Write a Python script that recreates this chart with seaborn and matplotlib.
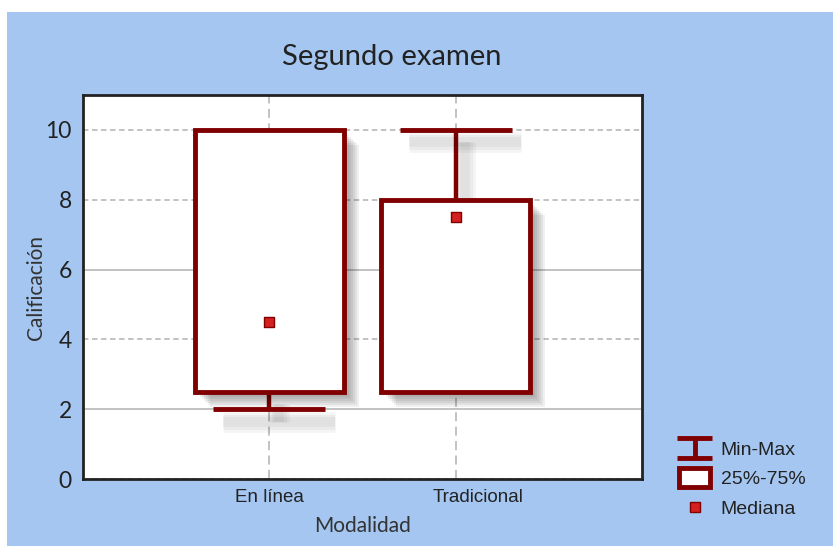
import matplotlib
matplotlib.use("Agg")
import matplotlib.pyplot as plt
import matplotlib.patheffects as pe
from matplotlib.lines import Line2D
from matplotlib.patches import Rectangle
from matplotlib.legend_handler import HandlerBase
import numpy as np
import seaborn as sns

# resumen por modalidad
modalidad = ["En línea", "Tradicional"]
minimo = [2.0, 2.5]
q25 = [2.5, 2.5]
mediana = [4.5, 7.5]
q75 = [10.0, 8.0]
maximo = [10.0, 10.0]
y_ticks = [0, 2, 4, 6, 8, 10]

rojo = "#800000"
rojo_claro = "#d42020"
azul = "#a4c6f0"

sns.set_style("white")
plt.rcParams["font.family"] = ["Lato", "DejaVu Sans"]

fig = plt.figure(figsize=(8.33, 5.46), dpi=100)
fig.patch.set_facecolor("white")
fig.patches.append(Rectangle((7 / 833, 0), 1, 1 - 12 / 546, transform=fig.transFigure,
                             facecolor=azul, edgecolor="none", zorder=-10))

ax = fig.add_axes([83 / 833, 67 / 546, 559 / 833, 384 / 546])
ax.set_facecolor("white")

# sombras difusas
box_shadow = [pe.SimplePatchShadow(offset=(d, -d), shadow_rgbFace="black", alpha=0.06)
              for d in (2, 3.5, 5, 6.5, 8, 9.5, 11)] + [pe.Normal()]
line_shadow = [pe.SimpleLineShadow(offset=(7, -9), shadow_color="black", alpha=0.04, linewidth=w)
               for w in (15, 11, 7)] + [pe.Normal()]

stats = []
for i, m in enumerate(modalidad):
    stats.append(dict(label=m, whislo=minimo[i], q1=q25[i], med=mediana[i],
                      q3=q75[i], whishi=maximo[i], fliers=[]))

bp = ax.bxp(stats, positions=[0, 1], widths=0.8, capwidths=0.6, patch_artist=True,
            showfliers=False, manage_ticks=False,
            boxprops=dict(facecolor="white", edgecolor=rojo, linewidth=3.5),
            whiskerprops=dict(color=rojo, linewidth=3.2, solid_capstyle="butt"),
            capprops=dict(color=rojo, linewidth=3.5, solid_capstyle="butt"),
            medianprops=dict(linewidth=0))
for b in bp["boxes"]:
    b.set_path_effects(box_shadow)
    b.set_zorder(3)
for l in bp["whiskers"] + bp["caps"]:
    l.set_path_effects(line_shadow)
    l.set_zorder(2.5)
for l in bp["medians"]:
    l.set_visible(False)
# sin bigote cuando el minimo coincide con el cuartil
for i in range(len(modalidad)):
    if minimo[i] == q25[i]:
        bp["whiskers"][2 * i].set_visible(False)
        bp["caps"][2 * i].set_visible(False)
    if maximo[i] == q75[i]:
        bp["whiskers"][2 * i + 1].set_visible(False)
        bp["caps"][2 * i + 1].set_visible(False)

sns.scatterplot(x=np.arange(len(modalidad)), y=mediana, marker="s", s=50,
                color=rojo_claro, edgecolor=rojo, linewidth=1, zorder=5, ax=ax, legend=False)

ax.set_xlim(-1, 2)
ax.set_ylim(0, 11)
ax.set_xticks(range(len(modalidad)))
ax.set_xticklabels([])
# etiquetas de categoria (la segunda va algo corrida a la derecha en el original)
shift = [0, 16]
for i, m in enumerate(modalidad):
    ax.annotate(m, xy=(i, 0), xycoords=ax.get_xaxis_transform(), xytext=(shift[i], -7),
                textcoords="offset points", ha="center", va="top", fontsize=13.5,
                family=["Liberation Sans", "DejaVu Sans"], color="#222222")
ax.set_yticks(y_ticks)
ax.set_yticklabels([str(t) for t in y_ticks], fontsize=16.5, color="#222222")
ax.tick_params(length=0)
ax.tick_params(axis="y", pad=8)
ax.tick_params(axis="x", pad=6)

ax.set_axisbelow(True)
ax.yaxis.grid(True, color="#bdbdbd", linewidth=1.3, linestyle=(0, (3, 2)))
ax.xaxis.grid(True, color="#bdbdbd", linewidth=1.3, linestyle=(0, (5, 3)))
for t, gl in zip(y_ticks, ax.get_ygridlines()):
    if t in (2, 6):
        gl.set_linestyle("-")

for s in ax.spines.values():
    s.set_color("#222222")
    s.set_linewidth(2)

ax.set_xlabel("Modalidad", fontsize=15, color="#333333", labelpad=21)
ax.set_ylabel("Calificación", fontsize=15, color="#333333", labelpad=0)
fig.text(392 / 833, 1 - 57 / 546, "Segundo examen", ha="center", va="center",
         fontsize=21, color="#222222")


class MinMaxHandler(HandlerBase):
    def create_artists(self, legend, orig_handle, xdescent, ydescent, width, height, fontsize, trans):
        x0, x1 = -xdescent, -xdescent + width
        y0, y1 = -ydescent - 0.25 * height, -ydescent + 1.25 * height
        xm = (x0 + x1) / 2
        kw = dict(color=rojo, lw=3.5, solid_capstyle="butt", transform=trans)
        return [Line2D([x0, x1], [y1, y1], **kw), Line2D([x0, x1], [y0, y0], **kw),
                Line2D([xm, xm], [y0, y1], **kw)]


class BoxHandler(HandlerBase):
    def create_artists(self, legend, orig_handle, xdescent, ydescent, width, height, fontsize, trans):
        r = Rectangle((-xdescent + 1.5, -ydescent - 0.2 * height), width - 3, 1.4 * height,
                      facecolor="white", edgecolor=rojo, lw=3.5, transform=trans)
        return [r]


h_minmax = Line2D([], [])
h_box = Rectangle((0, 0), 1, 1)
h_med = Line2D([], [], marker="s", linestyle="none", markersize=7,
               markerfacecolor=rojo_claro, markeredgecolor=rojo, markeredgewidth=1)
fig.legend([h_minmax, h_box, h_med], ["Min-Max", "25%-75%", "Mediana"],
           handler_map={h_minmax: MinMaxHandler(), h_box: BoxHandler()},
           loc="upper left", bbox_to_anchor=(677 / 833, 1 - 441 / 546), frameon=False,
           borderpad=0, borderaxespad=0, handlelength=1.8, handletextpad=0.45,
           labelspacing=0.62, prop=dict(family=["Liberation Sans", "DejaVu Sans"], size=14),
           labelcolor="#222222")

fig.savefig("out.png", dpi=100, facecolor=fig.get_facecolor())
